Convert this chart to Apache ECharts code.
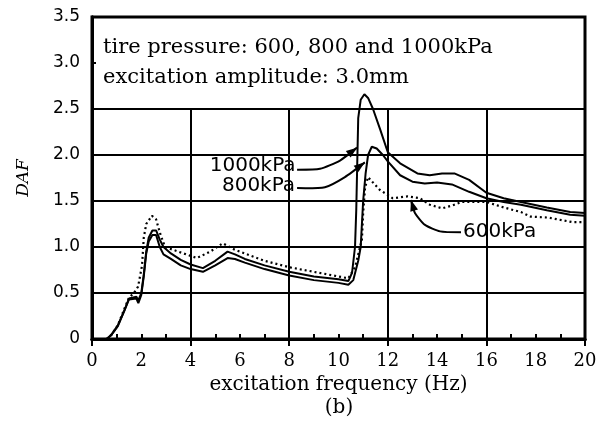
<!DOCTYPE html>
<html>
<head>
<meta charset="utf-8">
<script src="https://cdn.jsdelivr.net/npm/echarts@6/dist/echarts.min.js"></script>
<style>
  html, body { margin: 0; background: #fff; }
  #chart { width: 600px; height: 432px; }
</style>
</head>
<body>
<div id="chart"></div>
<script>
// DAF vs excitation frequency, [Hz, DAF]
const p1000 = [[0.6,0],[0.8,0.05],[1.05,0.15],[1.3,0.3],[1.5,0.44],[1.8,0.46],[1.88,0.42],[2.0,0.5],[2.1,0.7],[2.2,0.95],[2.3,1.1],[2.45,1.18],[2.6,1.18],[2.75,1.08],[2.9,1.0],[3.2,0.93],[3.6,0.86],[4.0,0.81],[4.5,0.77],[5.0,0.85],[5.5,0.95],[5.8,0.92],[6.2,0.87],[7.0,0.8],[8.0,0.73],[9.0,0.68],[10.0,0.65],[10.4,0.63],[10.55,0.72],[10.67,1.0],[10.72,1.4],[10.76,1.9],[10.8,2.4],[10.9,2.6],[11.05,2.66],[11.2,2.62],[11.4,2.5],[11.7,2.27],[12.0,2.03],[12.5,1.91],[13.2,1.8],[13.7,1.78],[14.2,1.8],[14.7,1.8],[15.3,1.73],[16.0,1.59],[16.7,1.53],[17.4,1.49],[18.45,1.43],[19.4,1.38],[20,1.37]];
const p800 = [[0.6,0],[0.8,0.05],[1.05,0.14],[1.3,0.3],[1.5,0.43],[1.8,0.44],[1.88,0.39],[2.0,0.48],[2.1,0.68],[2.2,0.93],[2.3,1.06],[2.45,1.13],[2.6,1.13],[2.75,1.0],[2.9,0.92],[3.2,0.87],[3.6,0.8],[4.0,0.76],[4.5,0.73],[5.0,0.8],[5.5,0.88],[5.8,0.87],[6.2,0.83],[7.0,0.76],[8.0,0.69],[9.0,0.64],[10.0,0.61],[10.4,0.59],[10.6,0.64],[10.8,0.85],[10.9,1.0],[11.0,1.5],[11.1,1.8],[11.2,2.0],[11.35,2.09],[11.55,2.07],[11.8,2.0],[12.0,1.93],[12.5,1.78],[13.0,1.71],[13.5,1.69],[14.0,1.7],[14.6,1.68],[15.3,1.6],[16.0,1.53],[16.7,1.49],[17.4,1.46],[18.45,1.4],[19.4,1.35],[20,1.34]];
const p600 = [[0.6,0],[0.8,0.05],[1.05,0.15],[1.3,0.32],[1.5,0.45],[1.7,0.5],[1.87,0.57],[2.03,0.8],[2.1,1.1],[2.2,1.25],[2.43,1.34],[2.6,1.3],[2.76,1.15],[2.96,1.0],[3.5,0.95],[4.25,0.88],[4.8,0.95],[5.3,1.04],[5.8,0.97],[6.5,0.9],[7.0,0.85],[8.0,0.78],[9.0,0.73],[10.0,0.68],[10.4,0.66],[10.67,0.78],[10.95,1.08],[11.0,1.37],[11.08,1.65],[11.2,1.76],[11.4,1.7],[11.68,1.62],[12.2,1.53],[12.8,1.55],[13.3,1.53],[13.7,1.46],[14.2,1.42],[14.6,1.45],[15.0,1.49],[16.0,1.49],[16.7,1.43],[17.4,1.38],[17.8,1.33],[18.5,1.32],[19.1,1.29],[19.5,1.27],[20,1.27]];

// vertical grid lines only run up to the bottom of the text box
const vGrid = [4, 8, 12, 16];
const boxBottom = 2.5;

// label leaders, in data coords (last point = arrow tip)
const lead1000 = [[8.32,1.84],[9.25,1.85],[10.06,1.94],[10.75,2.08]];
const lead800 = [[8.32,1.64],[9.45,1.65],[10.26,1.76],[11.07,1.92]];
const lead600 = [[14.97,1.16],[14.12,1.17],[13.51,1.24],[13.1,1.37],[12.94,1.51]];
const labels = [
  { text: '1000kPa', at: [8.26, 1.88], align: 'right', lead: lead1000 },
  { text: '800kPa', at: [8.24, 1.66], align: 'right', lead: lead800 },
  { text: '600kPa', at: [15.05, 1.16], align: 'left', lead: lead600 }
];

const chart = echarts.init(document.getElementById('chart'));

const axisLine = { show: true, lineStyle: { color: '#000', width: 3 } };

chart.setOption({
  animation: false,
  backgroundColor: '#fff',
  grid: { left: 92, right: 15, top: 17, bottom: 93, show: true, borderColor: '#000', borderWidth: 3, outerBoundsMode: 'none' },
  xAxis: [
    {
      type: 'value', min: 0, max: 20, interval: 2, position: 'bottom',
      axisLine: axisLine,
      axisTick: { show: true, inside: true, length: 5, lineStyle: { color: '#000', width: 2 } },
      minorTick: { show: true, splitNumber: 2, length: 5, lineStyle: { color: '#000', width: 2 } },
      splitLine: { show: false },
      axisLabel: { color: '#000', fontFamily: 'DejaVu Serif', fontSize: 18, margin: 13 },
      name: 'excitation frequency (Hz)', nameLocation: 'middle', nameGap: 32,
      nameTextStyle: { color: '#000', fontFamily: 'DejaVu Serif', fontSize: 20 }
    },
    {
      type: 'value', min: 0, max: 20, interval: 4, position: 'top',
      axisLine: axisLine,
      axisTick: { show: true, inside: true, length: 7, lineStyle: { color: '#000', width: 2 } },
      axisLabel: { show: false }, splitLine: { show: false }
    }
  ],
  yAxis: [
    {
      type: 'value', min: 0, max: 3.5, interval: 0.5,
      axisLine: axisLine,
      axisTick: { show: true, inside: true, length: 4, lineStyle: { color: '#000', width: 2 } },
      axisLabel: {
        color: '#000', fontFamily: 'DejaVu Sans', fontSize: 17, margin: 12,
        formatter: v => (v === 0 ? '0' : v.toFixed(1))
      },
      splitLine: {
        show: true,
        lineStyle: { width: 2, color: ['#000', '#000', '#000', '#000', '#000', '#000', 'rgba(0,0,0,0)', '#000'] }
      },
      name: 'DAF', nameLocation: 'middle', nameRotate: 90, nameGap: 60,
      nameTextStyle: { color: '#000', fontFamily: 'DejaVu Serif', fontStyle: 'italic', fontSize: 17 }
    },
    {
      type: 'value', min: 0, max: 3.5, position: 'right',
      axisLine: axisLine, axisTick: { show: false }, axisLabel: { show: false }, splitLine: { show: false }
    }
  ],
  series: [
    {
      name: 'grid', type: 'line', data: [], z: 1, silent: true,
      markLine: {
        silent: true, symbol: ['none', 'none'], label: { show: false },
        lineStyle: { color: '#000', width: 2, type: 'solid' },
        data: vGrid.map(v => [{ coord: [v, 0] }, { coord: [v, boxBottom] }])
      }
    },
    { name: '1000kPa', type: 'line', data: p1000, showSymbol: false, z: 3, lineStyle: { color: '#000', width: 2 } },
    { name: '800kPa', type: 'line', data: p800, showSymbol: false, z: 3, lineStyle: { color: '#000', width: 2 } },
    { name: '600kPa', type: 'line', data: p600, showSymbol: false, z: 3, lineStyle: { color: '#000', width: 2.2, type: [2, 3] } }
  ]
});

function px(p) {
  return chart.convertToPixel({ gridIndex: 0 }, p);
}

const gfx = [
  { type: 'text', x: 103, y: 48, style: { text: 'tire pressure: 600, 800 and 1000kPa', fill: '#000', font: '21px "DejaVu Serif"', verticalAlign: 'middle' } },
  { type: 'text', x: 103, y: 78, style: { text: 'excitation amplitude: 3.0mm', fill: '#000', font: '21px "DejaVu Serif"', verticalAlign: 'middle' } },
  { type: 'text', x: 339, y: 408, style: { text: '(b)', fill: '#000', font: '20px "DejaVu Serif"', align: 'center', verticalAlign: 'middle' } }
];

labels.forEach(l => {
  const t = px(l.at);
  gfx.push({ type: 'text', x: t[0], y: t[1], style: { text: l.text, fill: '#000', font: '20px "DejaVu Sans"', align: l.align, verticalAlign: 'middle' } });
  const pts = l.lead.map(px);
  gfx.push({ type: 'polyline', shape: { points: pts, smooth: 0.2 }, style: { stroke: '#000', lineWidth: 2, fill: null } });
  // arrow head from the last segment
  const a = pts[pts.length - 2], b = pts[pts.length - 1];
  const dx = b[0] - a[0], dy = b[1] - a[1], len = Math.hypot(dx, dy);
  const ux = dx / len, uy = dy / len;
  const bx = b[0] - ux * 11, by = b[1] - uy * 11;
  gfx.push({ type: 'polygon', shape: { points: [[b[0], b[1]], [bx - uy * 4, by + ux * 4], [bx + uy * 4, by - ux * 4]] }, style: { fill: '#000' } });
});

chart.setOption({ graphic: gfx });
</script>
</body>
</html>
